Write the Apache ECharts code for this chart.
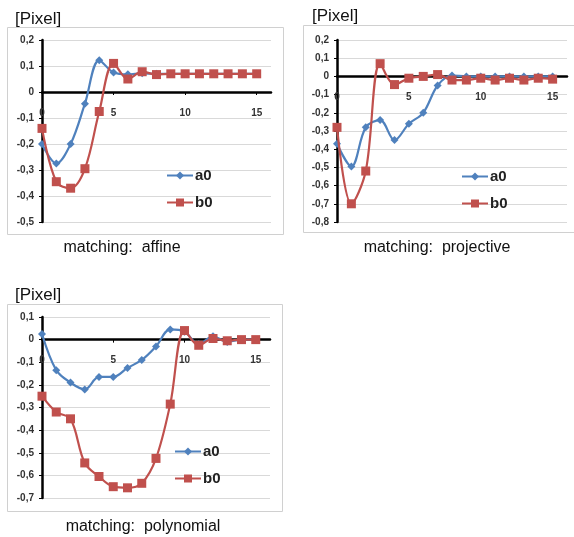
<!DOCTYPE html>
<html>
<head>
<meta charset="utf-8">
<script src="https://cdn.jsdelivr.net/npm/echarts@6/dist/echarts.min.js"></script>
<style>
html,body{margin:0;padding:0;background:#fff;}
#c{width:574px;height:537px;}
</style>
</head>
<body>
<div id="c"></div>
<script>
// x positions (iterations)
var xs = [0,1,2,3,4,5,6,7,8,9,10,11,12,13,14,15];

// matching: affine
var affineA0 = [-0.20,-0.275,-0.20,-0.045,0.122,0.075,0.068,0.072,0.070,0.070,0.070,0.070,0.070,0.070,0.070,0.070];
var affineB0 = [-0.14,-0.345,-0.37,-0.295,-0.075,0.11,0.05,0.078,0.067,0.070,0.070,0.070,0.070,0.070,0.070,0.070];

// matching: projective
var projA0 = [-0.37,-0.495,-0.28,-0.24,-0.35,-0.26,-0.20,-0.05,0.005,0.0,0.0,0.0,0.0,0.0,0.0,0.0];
var projB0 = [-0.28,-0.70,-0.52,0.07,-0.045,-0.01,0.0,0.01,-0.02,-0.02,-0.01,-0.02,-0.01,-0.02,-0.01,-0.015];

// matching: polynomial
var polyA0 = [0.025,-0.135,-0.19,-0.22,-0.165,-0.165,-0.125,-0.09,-0.03,0.045,0.035,-0.02,0.015,-0.01,0.0,0.0];
var polyB0 = [-0.25,-0.32,-0.35,-0.545,-0.605,-0.65,-0.655,-0.635,-0.525,-0.285,0.04,-0.025,0.005,-0.005,0.0,0.0];

var yTicks = {affine:[-0.5,0.2], projective:[-0.8,0.2], polynomial:[-0.7,0.1]};
var subtitles = ['matching:  affine','matching:  projective','matching:  polynomial'];
var unitLabel = '[Pixel]';

var BLUE = '#4f81bd', RED = '#c0504d';
var FONT = '"Liberation Sans", Arial, sans-serif';

function pairs(arr){ return arr.map(function(v,i){ return [xs[i], v]; }); }

var grids = [
  {left:42, top:40, width:229, height:182},
  {left:337, top:40, width:230, height:182},
  {left:42, top:317, width:228, height:181}
];
var ranges = [yTicks.affine, yTicks.projective, yTicks.polynomial];
var data = [[affineA0, affineB0],[projA0, projB0],[polyA0, polyB0]];

var xAxes = [], yAxes = [], series = [], legends = [];
grids.forEach(function(g, i){
  var r = ranges[i];
  var zeroOffset = -g.height * (0 - r[0]) / (r[1] - r[0]);
  xAxes.push({
    type:'value', gridIndex:i, min:0, max:16, interval:5, position:'bottom', offset:zeroOffset,
    axisLine:{show:true, onZero:false, lineStyle:{color:'#000', width:2.5}},
    axisTick:{show:true, length:3, inside:false, lineStyle:{color:'#000', width:1}},
    splitLine:{show:false},
    axisLabel:{margin:16, fontSize:10, fontWeight:'bold', color:'#333', fontFamily:FONT,
      formatter:function(v){ return (v % 5 === 0) ? String(v) : ''; }, showMaxLabel:false}
  });
  yAxes.push({
    type:'value', gridIndex:i, min:r[0], max:r[1], interval:0.1,
    axisLine:{show:true, onZero:false, lineStyle:{color:'#000', width:2.5}},
    axisTick:{show:true, length:3, lineStyle:{color:'#000', width:1}},
    splitLine:{show:true, lineStyle:{color:'#d9d9d9', width:1}},
    axisLabel:{margin:8, fontSize:10, fontWeight:'bold', color:'#333', fontFamily:FONT,
      formatter:function(v){ var q = Math.round(v*10)/10; return q === 0 ? '0' : String(q).replace('.', ','); }}
  });
  series.push({
    name:'a0', type:'line', xAxisIndex:i, yAxisIndex:i, data:pairs(data[i][0]), smooth:0.35,
    symbol:'diamond', symbolSize:8, itemStyle:{color:BLUE}, lineStyle:{color:BLUE, width:2.2}, z:3
  });
  series.push({
    name:'b0', type:'line', xAxisIndex:i, yAxisIndex:i, data:pairs(data[i][1]), smooth:0.35,
    symbol:'rect', symbolSize:9, itemStyle:{color:RED}, lineStyle:{color:RED, width:2.2}, z:4
  });
});

var legendPos = [{left:161, top:163},{left:456, top:164},{left:169, top:439}];
legendPos.forEach(function(p){
  legends.push({
    data:['a0','b0'], orient:'vertical', left:p.left, top:p.top, itemGap:12,
    itemWidth:26, itemHeight:10, selectedMode:false,
    textStyle:{fontSize:15, fontWeight:'bold', color:'#222', fontFamily:FONT, padding:[0,0,0,-3]}
  });
});

var graphics = [
  {type:'rect', shape:{x:7.5, y:27.5, width:276, height:207}, style:{fill:null, stroke:'#d0d0d0', lineWidth:1}, z:-1},
  {type:'rect', shape:{x:303.5, y:25.5, width:280, height:207}, style:{fill:null, stroke:'#d0d0d0', lineWidth:1}, z:-1},
  {type:'rect', shape:{x:7.5, y:304.5, width:275, height:207}, style:{fill:null, stroke:'#d0d0d0', lineWidth:1}, z:-1},
  {type:'text', left:15, top:11, style:{text:unitLabel, font:'17px ' + FONT, fill:'#111'}},
  {type:'text', left:312, top:8, style:{text:unitLabel, font:'17px ' + FONT, fill:'#111'}},
  {type:'text', left:15, top:287, style:{text:unitLabel, font:'17px ' + FONT, fill:'#111'}},
  {type:'text', x:122, y:248, style:{text:subtitles[0], font:'16px ' + FONT, fill:'#111', textAlign:'center', textVerticalAlign:'middle'}},
  {type:'text', x:437, y:248, style:{text:subtitles[1], font:'16px ' + FONT, fill:'#111', textAlign:'center', textVerticalAlign:'middle'}},
  {type:'text', x:143, y:527, style:{text:subtitles[2], font:'16px ' + FONT, fill:'#111', textAlign:'center', textVerticalAlign:'middle'}}
];

var chart = echarts.init(document.getElementById('c'), null, {renderer:'canvas'});
chart.setOption({
  animation:false,
  backgroundColor:'#fff',
  grid:grids,
  xAxis:xAxes,
  yAxis:yAxes,
  legend:legends,
  series:series,
  graphic:graphics
});
</script>
</body>
</html>
